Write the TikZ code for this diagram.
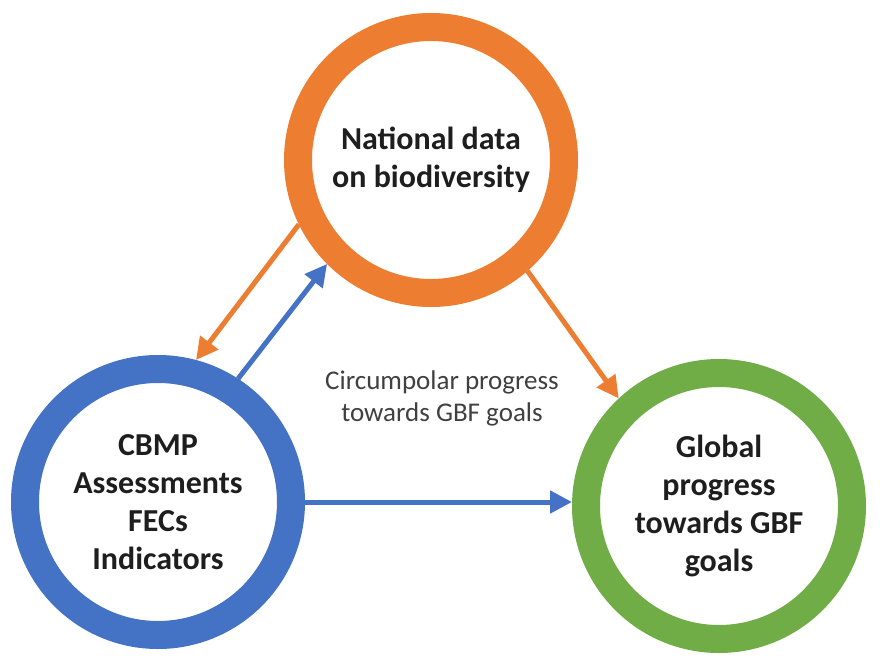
\documentclass[tikz,border=0pt]{standalone}
\usepackage{fontspec}
\setmainfont{Carlito}
\usetikzlibrary{arrows.meta}
\definecolor{corange}{HTML}{ED7D31}
\definecolor{cblue}{HTML}{4472C4}
\definecolor{cgreen}{HTML}{70AD47}
\definecolor{ctext}{HTML}{1E1E1E}
\definecolor{cgray}{HTML}{404040}
\tikzset{
  ring/.style={circle, draw=#1, line width=28pt, minimum size=266pt, inner sep=0pt,
    align=center, text=ctext, font=\fontsize{32}{38}\selectfont\bfseries},
  link/.style={draw=#1, line width=5pt, -{Triangle[length=22pt,width=22pt]}},
  midlabel/.style={align=center, text=cgray, font=\fontsize{27}{32}\selectfont}
}
\begin{document}
\begin{tikzpicture}[x=1pt, y=-1pt]
\useasboundingbox (0,0) rectangle (886,666);
\node[ring=corange] (nat) at (431,160) {National data\\on biodiversity};
\node[ring=cblue] (cbmp) at (158,502) {CBMP\\Assessments\\FECs\\Indicators};
\node[ring=cgreen] (glob) at (719,506) {Global\\progress\\towards GBF\\goals};
\node[midlabel] (mid) at (442,398) {Circumpolar progress\\towards GBF goals};
\draw[link=corange] (nat.206.6) -- (cbmp.75.7);
\draw[link=cblue] (cbmp.57.8) -- (nat.225.3);
\draw[link=corange] (nat.311.1) -- (glob.133.7);
\draw[link=cblue] (cbmp.east) -- (cbmp.east -| glob.west);
\end{tikzpicture}
\end{document}
